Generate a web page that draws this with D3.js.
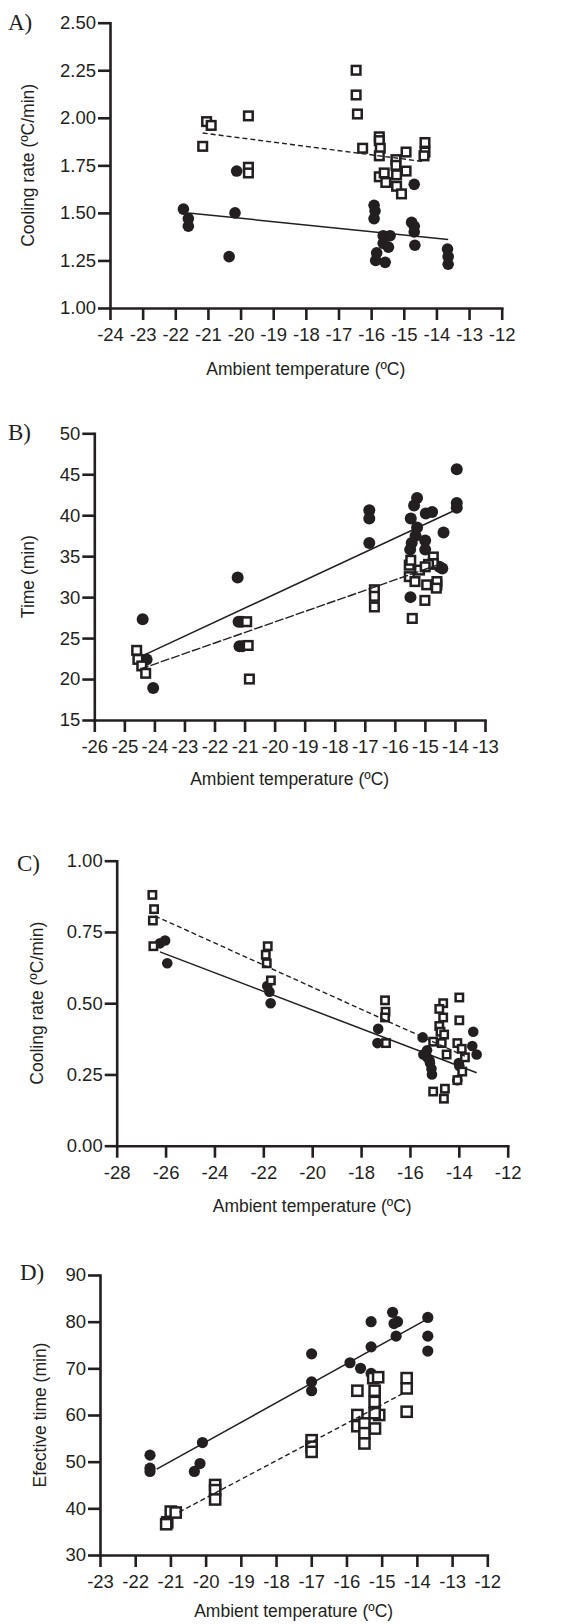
<!DOCTYPE html>
<html><head><meta charset="utf-8">
<script src="https://cdn.jsdelivr.net/npm/d3@7"></script>
<style>
body{margin:0;background:#fff}
svg{display:block}
</style>
</head><body>
<svg id="chart" width="573" height="1624"></svg>
<script>
// ---------- DATA ----------
const panelLabels = ["A)", "B)", "C)", "D)"];
const xTitle = "Ambient temperature (ºC)";
const yTitles = ["Cooling rate (ºC/min)", "Time (min)", "Cooling rate (ºC/min)", "Efective time (min)"];

// Panel A
const aXTicks = [-24,-23,-22,-21,-20,-19,-18,-17,-16,-15,-14,-13,-12];
const aYTicks = [1.00,1.25,1.50,1.75,2.00,2.25,2.50];
const aCircles = [
  [-20.12,1.72],[-14.68,1.65],[-21.75,1.52],[-21.6,1.47],[-21.6,1.43],[-20.17,1.50],[-20.35,1.27],
  [-15.91,1.54],[-15.88,1.51],[-15.91,1.47],[-15.83,1.29],[-15.86,1.25],[-15.63,1.38],[-15.63,1.34],
  [-15.57,1.24],[-15.42,1.38],[-15.47,1.32],[-14.76,1.45],[-14.68,1.43],[-14.68,1.40],[-14.66,1.33],
  [-13.66,1.31],[-13.64,1.27],[-13.64,1.23]
];
const aSquares = [
  [-21.04,1.98],[-20.9,1.96],[-21.16,1.85],[-19.76,2.01],[-19.76,1.74],[-19.76,1.71],
  [-16.46,2.25],[-16.46,2.12],[-16.42,2.02],[-16.26,1.84],[-15.75,1.90],[-15.75,1.88],[-15.72,1.84],
  [-15.75,1.80],[-15.75,1.69],[-15.6,1.71],[-15.55,1.66],[-15.24,1.78],[-15.24,1.75],[-15.22,1.70],
  [-15.22,1.64],[-15.07,1.60],[-14.93,1.82],[-14.93,1.72],[-14.35,1.87],[-14.35,1.82],[-14.38,1.80]
];
const aFitSolid = [[-21.6,1.50],[-13.64,1.36]];
const aFitDashed = [[-21.16,1.92],[-14.4,1.77]];

// Panel B
const bXTicks = [-26,-25,-24,-23,-22,-21,-20,-19,-18,-17,-16,-15,-14,-13];
const bYTicks = [15,20,25,30,35,40,45,50];
const bCircles = [
  [-24.39,27.3],[-24.26,22.4],[-24.04,18.9],[-21.23,32.4],[-21.2,27.0],[-21.1,27.0],[-21.17,24.0],[-21.08,24.0],
  [-16.85,40.6],[-16.85,39.6],[-16.85,36.6],
  [-15.26,42.1],[-15.36,41.2],[-15.47,39.6],[-15.26,38.5],[-15.31,37.5],[-15.44,36.6],[-15.49,35.8],
  [-14.97,40.2],[-14.76,40.4],[-14.99,36.9],[-14.99,35.8],[-14.38,37.9],
  [-13.94,45.6],[-13.94,41.5],[-13.94,40.9],[-14.52,33.7],[-14.42,33.5],[-15.48,30.0]
];
const bSquares = [
  [-24.59,23.5],[-24.55,22.4],[-24.42,21.6],[-24.29,20.7],
  [-20.93,27.0],[-20.88,24.1],[-20.84,20.0],
  [-16.68,30.9],[-16.68,30.1],[-16.68,28.8],
  [-15.42,27.4],[-15.0,29.6],[-14.94,31.5],[-14.6,31.5],[-14.6,31.9],
  [-15.52,33.9],[-15.52,32.5],[-15.47,34.5],[-15.33,31.9],[-15.18,33.3],
  [-14.72,34.9],[-14.72,34.1],[-14.88,34.0],[-14.99,33.7],[-14.62,31.1]
];
const bFitSolid = [[-24.42,22.8],[-14.0,40.6]];
const bFitDashed = [[-24.48,21.2],[-14.6,33.9]];

// Panel C
const cXTicks = [-28,-26,-24,-22,-20,-18,-16,-14,-12];
const cYTicks = [0.00,0.25,0.50,0.75,1.00];
const cCircles = [
  [-26.02,0.72],[-26.23,0.71],[-25.93,0.64],[-21.84,0.56],[-21.75,0.54],[-21.7,0.50],
  [-17.3,0.41],[-17.33,0.36],[-15.48,0.38],[-15.45,0.32],[-15.3,0.335],[-15.2,0.30],[-15.18,0.29],
  [-15.12,0.27],[-15.1,0.25],[-15.3,0.31],[-13.98,0.28],[-14.06,0.23],[-13.41,0.40],[-13.45,0.35],
  [-13.27,0.32],[-14.0,0.29]
];
const cSquares = [
  [-26.54,0.88],[-26.47,0.83],[-26.52,0.79],[-26.5,0.70],
  [-21.82,0.70],[-21.9,0.67],[-21.86,0.64],[-21.69,0.58],
  [-17.02,0.51],[-17.0,0.47],[-17.02,0.45],[-16.98,0.36],
  [-13.98,0.52],[-13.98,0.44],[-14.64,0.50],[-14.8,0.48],[-14.64,0.45],[-14.8,0.42],[-14.75,0.40],
  [-14.6,0.39],[-15.05,0.365],[-14.7,0.36],[-14.5,0.32],[-14.06,0.36],[-13.88,0.34],[-13.75,0.31],
  [-13.86,0.26],[-15.05,0.19],[-14.57,0.20],[-14.61,0.165],[-14.06,0.23]
];
const cFitSolid = [[-26.23,0.68],[-13.27,0.256]];
const cFitDashed = [[-26.43,0.806],[-13.75,0.314]];

// Panel D
const dXTicks = [-23,-22,-21,-20,-19,-18,-17,-16,-15,-14,-13,-12];
const dYTicks = [30,40,50,60,70,80,90];
const dCircles = [
  [-21.58,51.4],[-21.58,48.6],[-21.58,47.9],[-20.09,54.1],[-20.16,49.6],[-20.32,47.9],
  [-16.99,73.1],[-16.99,67.1],[-16.99,65.2],[-15.9,71.2],[-15.6,70.0],[-15.3,80.0],[-15.3,74.6],
  [-15.3,68.9],[-14.69,82.0],[-14.65,79.6],[-14.55,80.0],[-14.59,76.9],[-13.69,80.9],[-13.69,76.9],[-13.69,73.7]
];
const dSquares = [
  [-21.09,37.0],[-21.12,36.6],[-20.99,39.3],[-20.85,39.1],
  [-19.73,45.0],[-19.73,43.9],[-19.73,41.9],
  [-16.99,54.6],[-16.99,53.2],[-16.99,52.1],
  [-15.69,65.2],[-15.69,60.0],[-15.69,57.6],[-15.49,58.2],[-15.49,56.1],[-15.49,53.9],[-15.19,57.1],
  [-15.24,67.9],[-15.1,68.1],[-15.2,65.2],[-15.2,62.8],[-15.07,60.0],[-15.2,60.4],
  [-14.29,67.9],[-14.29,65.7],[-14.29,60.7]
];
const dFitSolid = [[-21.39,48.4],[-13.67,80.7]];
const dFitDashed = [[-20.75,39.2],[-14.35,64.8]];

// ---------- DRAWING ----------
const INK = "#231f20";
const FONT = "'Liberation Sans', Arial, Helvetica, sans-serif";
const TICK_FS = 18.5, TITLE_FS = 17.5;
const svg = d3.select("#chart");
const hyphenInt = d => String(d);   // plain hyphen-minus like the original

const panels = [
  {label: panelLabels[0], yTitle: yTitles[0], xTicks: aXTicks, yTicks: aYTicks, yFmt: d3.format(".2f"),
   circles: aCircles, squares: aSquares, fitSolid: aFitSolid, fitDashed: aFitDashed, dash: "5,3",
   box: {l:110, r:501.7, t:22.7, b:308}, labelPos: [8, 30], yTitleX: 28, xTitleDy: 67, rC: 5.8, sq: 8.6},
  {label: panelLabels[1], yTitle: yTitles[1], xTicks: bXTicks, yTicks: bYTicks, yFmt: hyphenInt,
   circles: bCircles, squares: bSquares, fitSolid: bFitSolid, fitDashed: bFitDashed, dash: "9,2",
   box: {l:94.3, r:485, t:433.3, b:720}, labelPos: [8, 440], yTitleX: 28, xTitleDy: 65, rC: 6, sq: 8.6},
  {label: panelLabels[2], yTitle: yTitles[2], xTicks: cXTicks, yTicks: cYTicks, yFmt: d3.format(".2f"),
   circles: cCircles, squares: cSquares, fitSolid: cFitSolid, fitDashed: cFitDashed, dash: "5,3",
   box: {l:116.7, r:507.7, t:860.7, b:1145.7}, labelPos: [17, 871], yTitleX: 37, xTitleDy: 66, rC: 5.3, sq: 7.4},
  {label: panelLabels[3], yTitle: yTitles[3], xTicks: dXTicks, yTicks: dYTicks, yFmt: hyphenInt,
   circles: dCircles, squares: dSquares, fitSolid: dFitSolid, fitDashed: dFitDashed, dash: "5,3",
   box: {l:100, r:487.3, t:1275, b:1555}, labelPos: [20, 1280], yTitleX: 40, xTitleDy: 62, rC: 5.6, sq: 10.2}
];

panels.forEach(p => {
  const {l, r, t, b} = p.box;
  const x = d3.scaleLinear().domain(d3.extent(p.xTicks)).range([l, r]);
  const y = d3.scaleLinear().domain(d3.extent(p.yTicks)).range([b, t]);
  const g = svg.append("g");

  // axes
  const xa = g.append("g").attr("transform", `translate(0,${b})`)
    .call(d3.axisBottom(x).tickValues(p.xTicks).tickFormat(hyphenInt).tickSize(12).tickSizeOuter(0).tickPadding(8));
  const ya = g.append("g").attr("transform", `translate(${l},0)`)
    .call(d3.axisLeft(y).tickValues(p.yTicks).tickFormat(p.yFmt).tickSize(12).tickSizeOuter(0).tickPadding(2));
  [xa, ya].forEach(a => {
    a.attr("color", INK).attr("font-family", FONT).attr("font-size", TICK_FS);
    a.select("path.domain").attr("stroke", INK).attr("stroke-width", 2.6).attr("stroke-linecap", "square");
    a.selectAll(".tick line").attr("stroke", INK).attr("stroke-width", 2.6);
    a.selectAll("text").attr("fill", INK);
  });

  // markers: circles first, then squares
  g.append("g").selectAll("circle").data(p.circles).join("circle")
    .attr("cx", d => x(d[0])).attr("cy", d => y(d[1])).attr("r", p.rC)
    .attr("fill", INK);
  g.append("g").selectAll("rect").data(p.squares).join("rect")
    .attr("x", d => x(d[0]) - p.sq/2).attr("y", d => y(d[1]) - p.sq/2)
    .attr("width", p.sq).attr("height", p.sq)
    .attr("fill", "#fff").attr("stroke", INK).attr("stroke-width", 2.5);

  // fit lines
  const line = d3.line().x(d => x(d[0])).y(d => y(d[1]));
  g.append("path").attr("d", line(p.fitSolid)).attr("fill", "none").attr("stroke", INK).attr("stroke-width", 1.5);
  g.append("path").attr("d", line(p.fitDashed)).attr("fill", "none").attr("stroke", INK).attr("stroke-width", 1.4)
    .attr("stroke-dasharray", p.dash);

  // titles
  g.append("text").attr("x", (l + r) / 2).attr("y", b + p.xTitleDy)
    .attr("text-anchor", "middle").attr("font-family", FONT)
    .attr("font-size", TITLE_FS).attr("fill", INK).text(xTitle);
  g.append("text").attr("transform", `translate(${p.yTitleX},${(t + b) / 2}) rotate(-90)`)
    .attr("text-anchor", "middle").attr("dominant-baseline", "central")
    .attr("font-family", FONT)
    .attr("font-size", TITLE_FS).attr("fill", INK).text(p.yTitle);
  g.append("text").attr("x", p.labelPos[0]).attr("y", p.labelPos[1])
    .attr("font-family", "'Liberation Serif', 'Times New Roman', serif")
    .attr("font-size", 23).attr("fill", INK).text(p.label);
});
</script>
</body></html>
